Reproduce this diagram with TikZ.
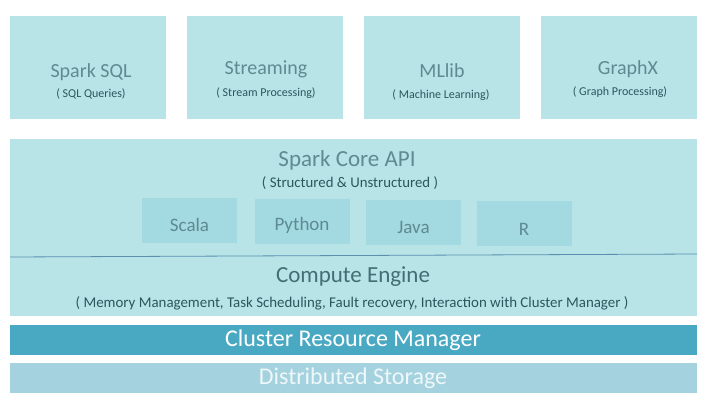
\documentclass[tikz,border=0pt]{standalone}
\usepackage{fontspec}
\setmainfont{Carlito}
\definecolor{boxfill}{HTML}{B8E4E8}
\definecolor{langfill}{HTML}{A3D9E0}
\definecolor{clusterfill}{HTML}{49A9C3}
\definecolor{storagefill}{HTML}{A5D2DF}
\definecolor{titlecol}{HTML}{5E8A92}
\definecolor{subcol}{HTML}{2E555C}
\definecolor{linecol}{HTML}{5A8FB0}
\definecolor{storetext}{HTML}{EEF8FA}
\begin{document}
\begin{tikzpicture}[x=1pt,y=-1pt,
  box/.style={fill=boxfill, draw=none, inner sep=0pt},
  langbox/.style={fill=langfill, draw=none, inner sep=0pt, minimum width=95pt, minimum height=45pt},
  topbox/.style={box, minimum width=156pt, minimum height=103pt},
  wide/.style={inner sep=0pt, minimum width=687pt},
  title/.style={text=titlecol, font=\fontsize{20}{22}\selectfont, inner sep=0pt},
  sub/.style={text=subcol, font=\fontsize{12}{14}\selectfont, inner sep=0pt},
  lang/.style={text=titlecol, font=\fontsize{19}{21}\selectfont, inner sep=0pt}]
\useasboundingbox (0,0) rectangle (708,404);
\fill[white] (0,0) rectangle (708,404);
% top boxes
\node[topbox] (sql) at (88,67.5) {};
\node[topbox] (stream) at (265,67.5) {};
\node[topbox] (ml) at (442,67.5) {};
\node[topbox] (graph) at (619,67.5) {};
\node[title] (sqlT) at (91,72) {Spark SQL};
\node[sub] (sqlS) at (91,94) {( SQL Queries)};
\node[title] (streamT) at (266,69) {Streaming};
\node[sub] (streamS) at (266,93) {( Stream Processing)};
\node[title] (mlT) at (442,71) {MLlib};
\node[sub] (mlS) at (441,95) {( Machine Learning)};
\node[title] (graphT) at (628,69) {GraphX};
\node[sub] (graphS) at (620,92) {( Graph Processing)};
% core and compute
\node[box, wide, minimum height=117pt, anchor=north west] (core) at (10,139) {};
\node[box, wide, minimum height=60pt, anchor=north west] (compute) at (10,256) {};
\coordinate (lineL) at (10,257);
\coordinate (lineR) at (697,254);
\draw[linecol, line width=0.8pt] (lineL) -- (lineR);
\node[title, font=\fontsize{23}{25}\selectfont] (coreT) at (347,160) {Spark Core API};
\node[sub, font=\fontsize{14.8}{17}\selectfont] (coreS) at (350,183) {( Structured \& Unstructured )};
\node[langbox] (scala) at (189.5,220.5) {};
\node[langbox] (python) at (302,221) {};
\node[langbox] (java) at (413.5,222) {};
\node[langbox] (r) at (524,223) {};
\node[lang] (scalaT) at (189.5,225) {Scala};
\node[lang] (pythonT) at (302,225) {Python};
\node[lang] (javaT) at (413.5,227) {Java};
\node[lang] (rT) at (524,229) {R};
\node[title, font=\fontsize{23}{25}\selectfont, text=subcol!55!titlecol] (compT) at (353,277) {Compute Engine};
\node[sub, font=\fontsize{14.9}{17}\selectfont] (compS) at (352,303) {( Memory Management, Task Scheduling, Fault recovery, Interaction with Cluster Manager )};
% bottom layers
\node[wide, fill=clusterfill, minimum height=30pt, anchor=north west] (cluster) at (10,325) {};
\node[text=white, font=\fontsize{24}{26}\selectfont, inner sep=0pt] (clusterT) at (353,340) {Cluster Resource Manager};
\node[wide, fill=storagefill, minimum height=30pt, anchor=north west] (storage) at (10,363) {};
\node[text=storetext, font=\fontsize{24}{26}\selectfont, inner sep=0pt] (storageT) at (353,378) {Distributed Storage};
\end{tikzpicture}
\end{document}
